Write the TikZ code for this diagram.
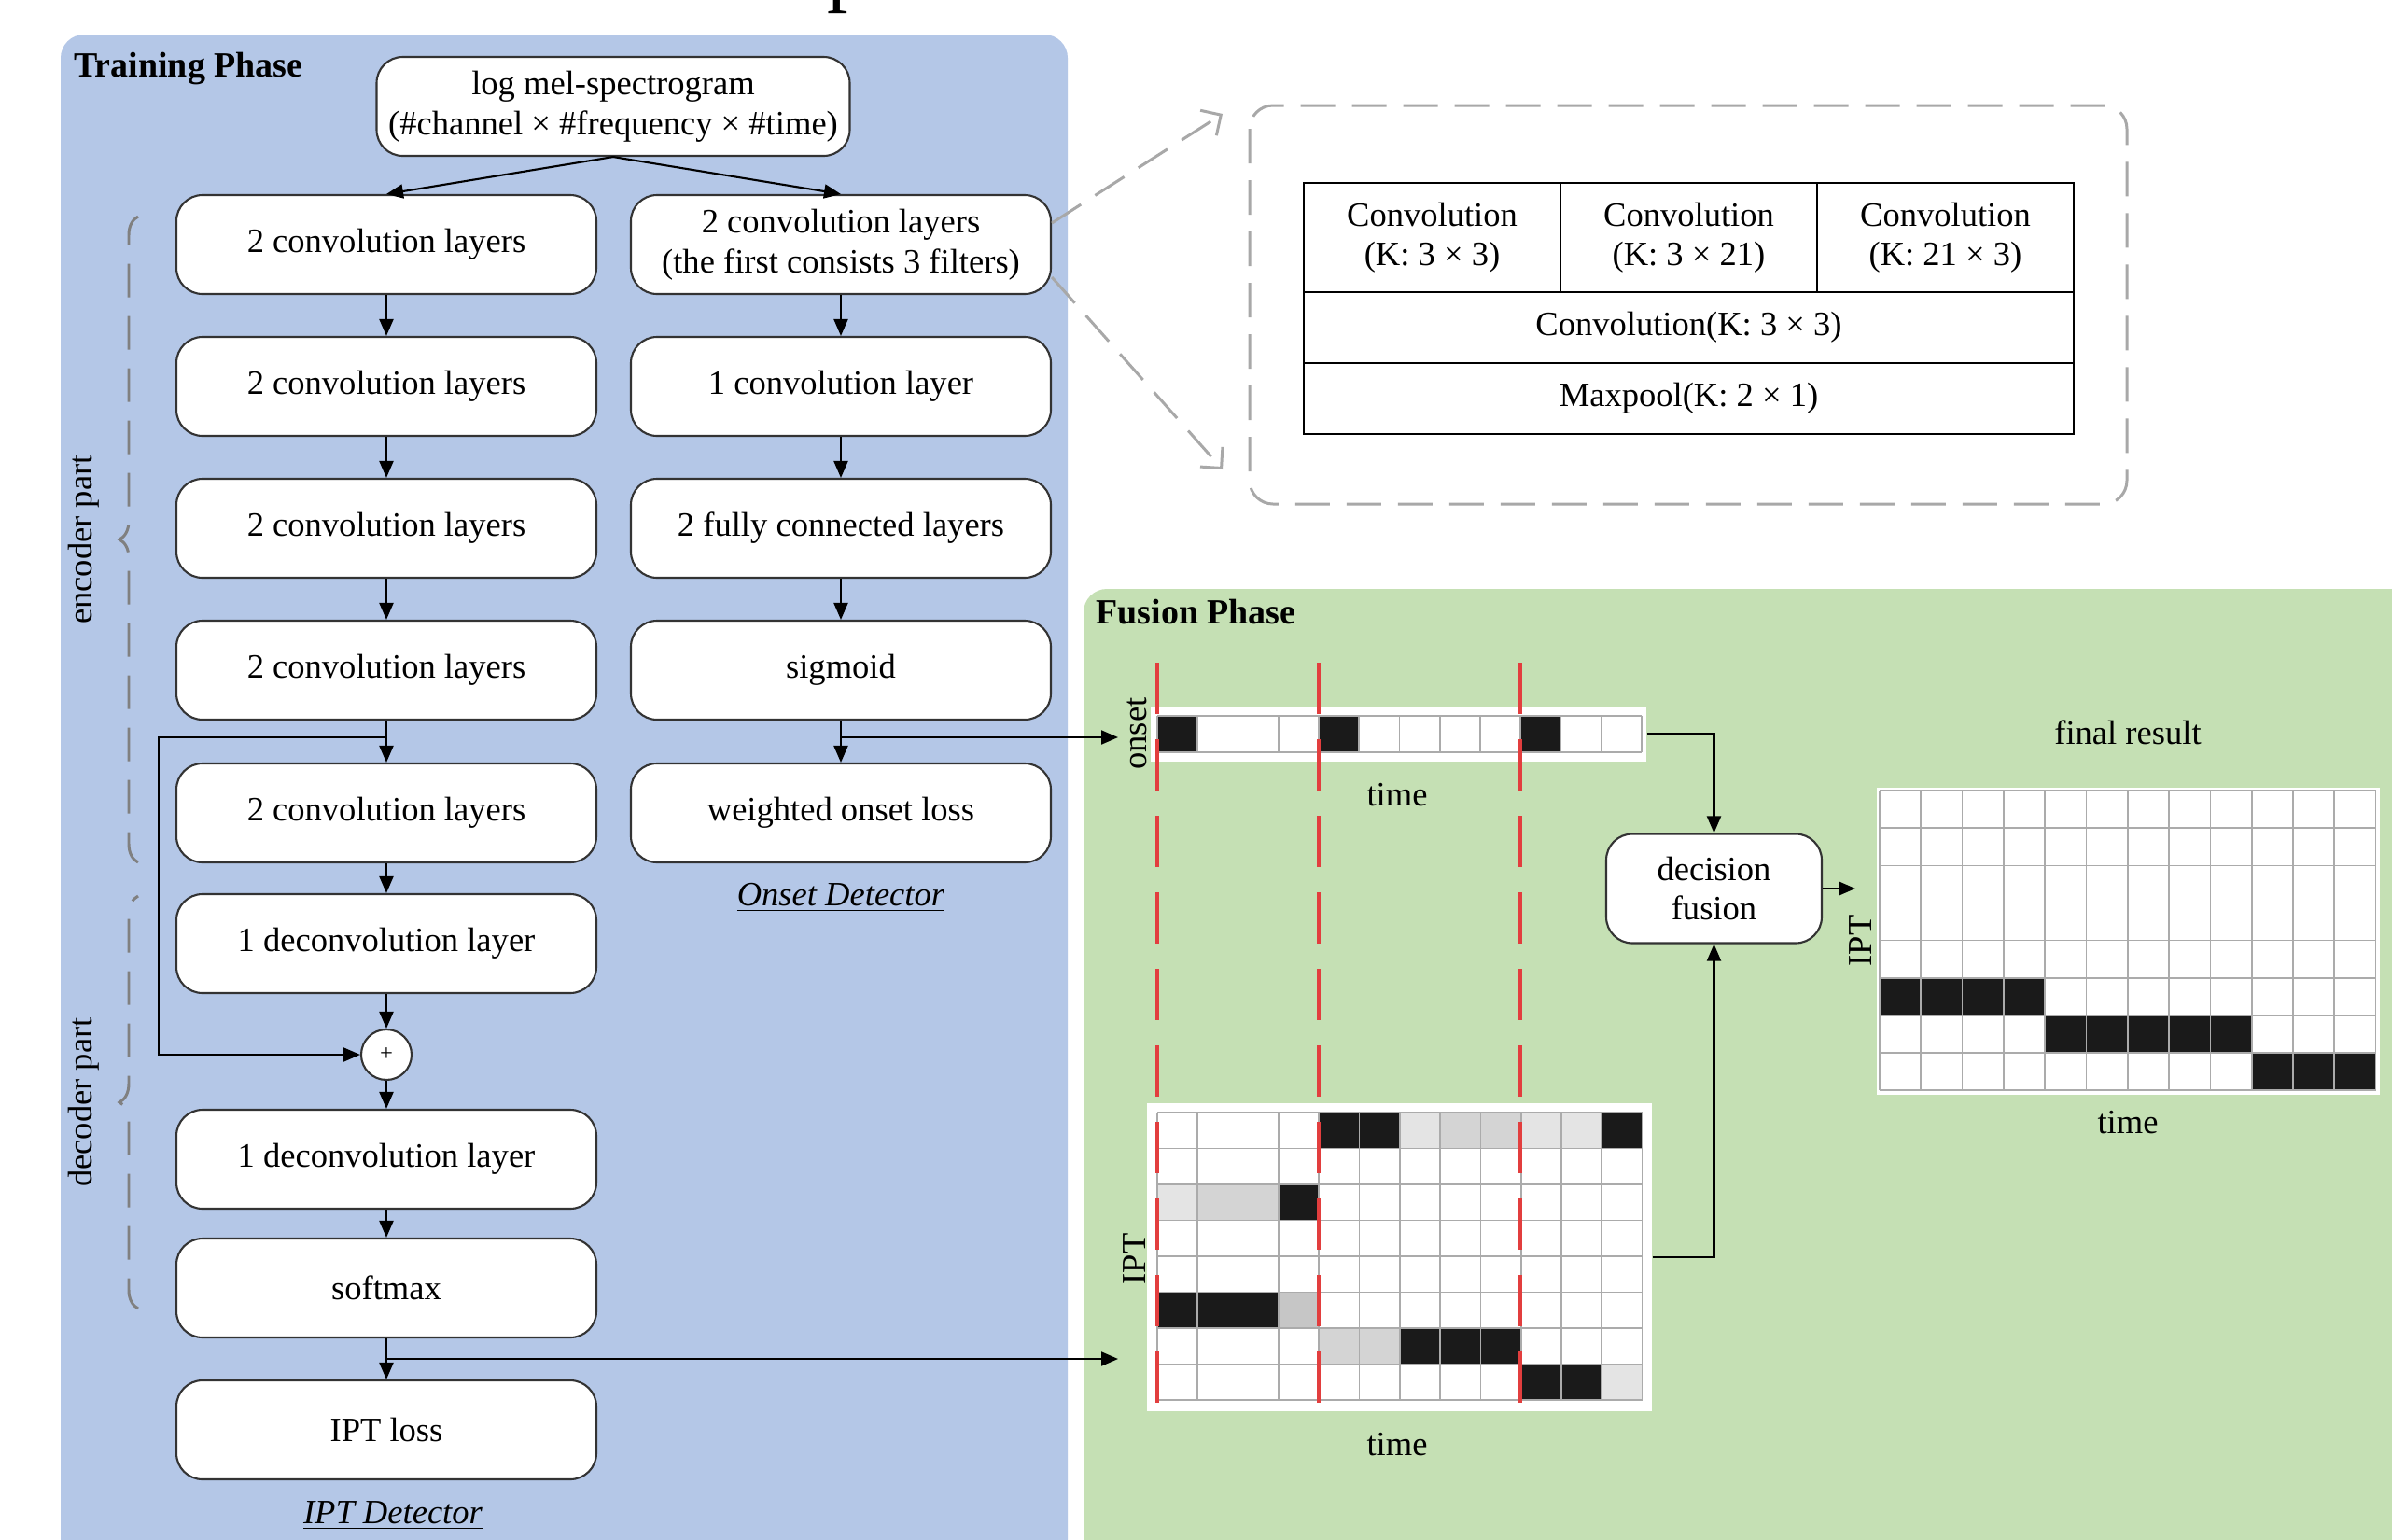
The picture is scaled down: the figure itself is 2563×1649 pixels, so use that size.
\documentclass[tikz,border=0pt]{standalone}
\usepackage{fontspec}
\setmainfont{Liberation Serif}
\usetikzlibrary{arrows.meta,decorations.pathreplacing}
\definecolor{trainblue}{HTML}{B4C7E7}
\definecolor{fusegreen}{HTML}{C5E0B4}
\definecolor{onsetred}{RGB}{226,62,62}
\definecolor{zoomgray}{HTML}{A8A8A8}
\definecolor{cellline}{HTML}{ABABAB}
\definecolor{cellblack}{HTML}{1A1A1A}
\definecolor{lightcell}{HTML}{E4E4E4}
\definecolor{midcell}{HTML}{D4D4D4}
\definecolor{darkcell}{HTML}{C6C6C6}

\begin{document}
\begin{tikzpicture}[x=0.1mm,y=-0.1mm,
  every node/.style={font=\fontsize{10.4}{12.1}\selectfont},
  layerbox/.style={draw=black!80,line width=0.6pt,fill=white,rounded corners=2.8mm,
    minimum width=45mm,minimum height=10.6mm,align=center,inner sep=0pt},
  tabcell/.style={draw=black,line width=0.8pt,fill=white,align=center,inner sep=0pt},
  arr/.style={line width=0.6pt,-{Triangle[length=1.8mm,width=1.5mm]}},
  zoomline/.style={draw=zoomgray,line width=0.85pt,dash pattern=on 3.7mm off 1.8mm},
  bracket/.style={draw=gray,line width=0.85pt,dash pattern=on 3.6mm off 2mm,
    decorate,decoration={brace,amplitude=2mm}},
  onsetline/.style={draw=onsetred,line width=1.2pt,dash pattern=on 5.5mm off 2.7mm},
  mapbg/.style={fill=white,inner sep=0pt},
  cellgrid/.style={draw=cellline,line width=0.5pt,step=1},
  phase/.style={anchor=west,font=\fontsize{10.8}{12}\selectfont\bfseries}
]
\useasboundingbox (0,0) rectangle (2563,1649);
\fill[white] (0,0) rectangle (2563,1649);
\node[anchor=base west,inner sep=0pt,font=\fontsize{25.6}{26}\selectfont] (caption) at (886,-5) {p};

\fill[trainblue,rounded corners=2.5mm] (65,37) rectangle (1144,1720);
\fill[fusegreen,rounded corners=2.5mm] (1161,631) rectangle (2640,1720);
\node[phase] (trainlabel) at (67,74) {Training Phase};
\node[phase] (fuselabel) at (1162,656) {Fusion Phase};

\node[layerbox,minimum width=50.7mm] (input) at (657,114) {log mel-spectrogram\\(\#channel × \#frequency × \#time)};
\node[layerbox] (ipt1) at (414,262) {2 convolution layers};
\node[layerbox] (ipt2) at (414,414) {2 convolution layers};
\node[layerbox] (ipt3) at (414,566) {2 convolution layers};
\node[layerbox] (ipt4) at (414,718) {2 convolution layers};
\node[layerbox] (ipt5) at (414,871) {2 convolution layers};
\node[layerbox] (ipt6) at (414,1011) {1 deconvolution layer};
\node[draw=black!80,line width=0.6pt,fill=white,circle,minimum size=5.4mm,inner sep=0pt,font=\scriptsize] (plus) at (414,1130) {+};
\node[layerbox] (ipt7) at (414,1242) {1 deconvolution layer};
\node[layerbox] (ipt8) at (414,1380) {softmax};
\node[layerbox] (ipt9) at (414,1532) {IPT loss};
\node[layerbox] (onset1) at (901,262) {2 convolution layers\\(the first consists 3 filters)};
\node[layerbox] (onset2) at (901,414) {1 convolution layer};
\node[layerbox] (onset3) at (901,566) {2 fully connected layers};
\node[layerbox] (onset4) at (901,718) {sigmoid};
\node[layerbox] (onset5) at (901,871) {weighted onset loss};
\node (iptname) at (421,1624) {\underline{\textit{IPT Detector}}};
\node (onsetname) at (901,962) {\underline{\textit{Onset Detector}}};

\node[rotate=90] (enclabel) at (90,578) {encoder part};
\node[rotate=90] (declabel) at (90,1181) {decoder part};
\draw[bracket] (148,924) -- (148,232);
\draw[bracket] (148,1402) -- (148,960);

\draw[arr] (input.south) -- (ipt1.north);
\draw[arr] (input.south) -- (onset1.north);
\draw[arr] (ipt1) -- (ipt2);
\draw[arr] (ipt2) -- (ipt3);
\draw[arr] (ipt3) -- (ipt4);
\draw[arr] (ipt4) -- (ipt5);
\draw[arr] (ipt5) -- (ipt6);
\draw[arr] (ipt6) -- (plus);
\draw[arr] (plus) -- (ipt7);
\draw[arr] (ipt7) -- (ipt8);
\draw[arr] (ipt8) -- (ipt9);
\draw[arr] (onset1) -- (onset2);
\draw[arr] (onset2) -- (onset3);
\draw[arr] (onset3) -- (onset4);
\draw[arr] (onset4) -- (onset5);

\coordinate (split) at (414,790);
\coordinate (skipturn) at (170,790);
\draw[arr] (split) -- (skipturn) |- (plus.west);
\coordinate (onsetsplit) at (901,790);
\coordinate (onsetin) at (1198,790);
\draw[arr] (onsetsplit) -- (onsetin);
\coordinate (iptsplit) at (414,1456);
\coordinate (iptin) at (1198,1456);
\draw[arr] (iptsplit) -- (iptin);

\draw[zoomline,rounded corners=2.5mm] (1339,113) rectangle (2279,540);
\node[tabcell,minimum width=27.5mm,minimum height=11.7mm] (conv33) at (1534.5,254.5) {Convolution\\(K: 3 × 3)};
\node[tabcell,minimum width=27.5mm,minimum height=11.7mm] (conv321) at (1809.5,254.5) {Convolution\\(K: 3 × 21)};
\node[tabcell,minimum width=27.5mm,minimum height=11.7mm] (conv213) at (2084.5,254.5) {Convolution\\(K: 21 × 3)};
\node[tabcell,minimum width=82.5mm,minimum height=7.6mm] (convmerge) at (1809.5,351) {Convolution(K: 3 × 3)};
\node[tabcell,minimum width=82.5mm,minimum height=7.6mm] (maxpool) at (1809.5,427) {Maxpool(K: 2 × 1)};
\coordinate (zoomtop) at (1310,122);
\coordinate (zoombot) at (1310,503);
\draw[zoomline,-{Straight Barb[length=1.6mm,width=3.2mm]}] ([yshift=2.3mm]onset1.east) -- (zoomtop);
\draw[zoomline,-{Straight Barb[length=1.6mm,width=3.2mm]}] ([yshift=-3.5mm]onset1.east) -- (zoombot);

\node[mapbg,minimum width=53.1mm,minimum height=5.9mm] (onsetmap) at (1498.5,786.5) {};
\begin{scope}[shift={(1240,806)},x=4.325mm,y=3.9mm]
\fill[cellblack] (0,0) rectangle (1,1) (4,0) rectangle (5,1) (9,0) rectangle (10,1);
\draw[cellgrid] (0,0) grid (12,1);
\end{scope}
\node[rotate=90] (onsetaxis) at (1218,786) {onset};
\node (onsettime) at (1497,852) {time};

\node[mapbg,minimum width=54.1mm,minimum height=33mm] (iptmap) at (1499.5,1347) {};
\begin{scope}[shift={(1240,1500)},x=4.33mm,y=3.85mm]
\fill[lightcell] (6,7) rectangle (7,8) (9,7) rectangle (11,8) (0,5) rectangle (1,6) (11,0) rectangle (12,1);
\fill[midcell] (7,7) rectangle (9,8) (1,5) rectangle (3,6) (4,1) rectangle (6,2);
\fill[darkcell] (3,2) rectangle (4,3);
\fill[cellblack] (4,7) rectangle (6,8) (11,7) rectangle (12,8) (3,5) rectangle (4,6)
  (0,2) rectangle (3,3) (6,1) rectangle (9,2) (9,0) rectangle (11,1);
\draw[cellgrid] (0,0) grid (12,8);
\end{scope}
\node[rotate=90] (iptaxis) at (1216,1349) {IPT};
\node (ipttime) at (1497,1548) {time};

\node[layerbox,minimum width=23.1mm,minimum height=11.7mm] (fusion) at (1836.5,952) {decision\\fusion};
\draw[arr] (onsetmap.east) -| (fusion.north);
\draw[arr] (iptmap.east) -| (fusion.south);
\coordinate (finalin) at (1988,952);
\draw[arr] (fusion) -- (finalin);

\node[mapbg,minimum width=53.9mm,minimum height=32.9mm] (finalmap) at (2280.5,1008) {};
\begin{scope}[shift={(2014,1168)},x=4.43mm,y=4.01mm]
\fill[cellblack] (0,2) rectangle (4,3) (4,1) rectangle (9,2) (9,0) rectangle (12,1);
\draw[cellgrid] (0,0) grid (12,8);
\end{scope}
\node[rotate=90] (finalaxis) at (1994,1008) {IPT};
\node (finaltime) at (2280,1203) {time};
\node (finalname) at (2280,785) {final result};

\draw[onsetline] (1240,710) -- (1240,1505);
\draw[onsetline] (1413,710) -- (1413,1505);
\draw[onsetline] (1629,710) -- (1629,1505);
\end{tikzpicture}
\end{document}
